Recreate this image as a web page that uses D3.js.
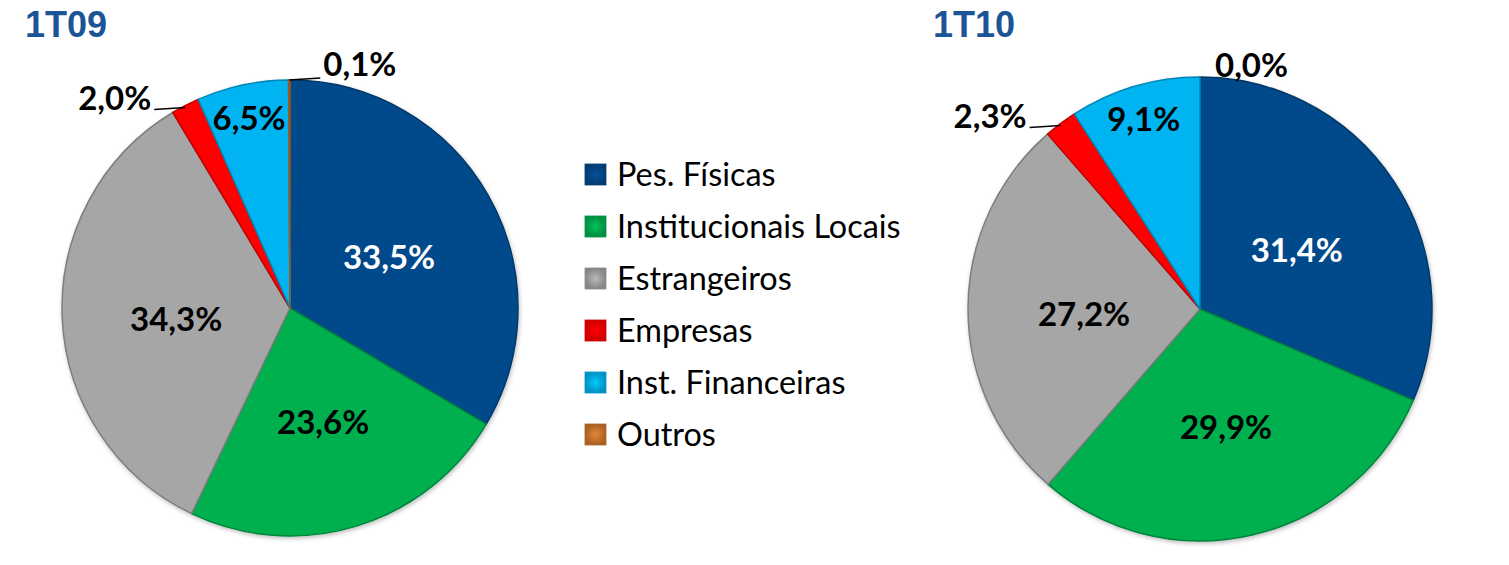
<!DOCTYPE html>
<html lang="pt">
<head>
  <meta charset="UTF-8">
  <title>Base acionária 1T09 x 1T10</title>
  <style>
    html, body { margin: 0; padding: 0; background: #fff; }
    svg { display: block; }
  </style>
</head>
<body>

  <section class="plot"></section>

  <script src="https://cdn.jsdelivr.net/npm/d3@7"></script>
  <script>
    // Data
    const categories = ["Pes. Físicas", "Institucionais Locais", "Estrangeiros", "Empresas", "Inst. Financeiras", "Outros"];
    const periods = ["1T09", "1T10"];
    const values1T09 = [33.5, 23.6, 34.3, 2.0, 6.5, 0.1];
    const values1T10 = [31.4, 29.9, 27.2, 2.3, 9.1, 0.0];
    const seriesValues = [values1T09, values1T10];

    const colors = ["#044a8b", "#00b050", "#a6a6a6", "#ff0000", "#00b4f2", "#d0782e"];
    const labelColors = ["#ffffff", "#000000", "#000000", "#000000", "#000000", "#000000"];

    const W = 1509, H = 565;
    const svg = d3.select(".plot")
      .append("svg")
      .attr("width", W)
      .attr("height", H);

    const color = d3.scaleOrdinal().domain(categories).range(colors);
    const labelColor = d3.scaleOrdinal().domain(categories).range(labelColors);
    const fmt = v => v.toFixed(1).replace(".", ",") + "%";

    // gradient for legend swatches (bevel-ish look)
    const defs = svg.append("defs");
    categories.forEach((c, i) => {
      const g = defs.append("radialGradient").attr("id", "sw" + i);
      g.append("stop").attr("offset", "0%").attr("stop-color", d3.color(color(c)).brighter(0.3));
      g.append("stop").attr("offset", "100%").attr("stop-color", d3.color(color(c)).darker(0.6));
    });
    const shadow = defs.append("filter").attr("id", "shadow")
      .attr("x", "-10%").attr("y", "-10%").attr("width", "120%").attr("height", "120%");
    shadow.append("feDropShadow")
      .attr("dx", 1).attr("dy", 2).attr("stdDeviation", 2)
      .attr("flood-color", "#000").attr("flood-opacity", 0.25);

    // pie layout
    const pies = [
      { title: periods[0], cx: 290, cy: 308, r: 228, titleX: 25 },
      { title: periods[1], cx: 1200, cy: 309, r: 232, titleX: 933 }
    ];

    const pie = d3.pie().sort(null).value(d => d.value);

    pies.forEach((p, k) => {
      const data = categories.map((c, i) => ({ cat: c, value: seriesValues[k][i] }));
      const arcs = pie(data);
      const arc = d3.arc().innerRadius(0).outerRadius(p.r);

      svg.append("text")
        .attr("x", p.titleX)
        .attr("y", 37)
        .attr("font-family", "'Liberation Sans', Arial, sans-serif")
        .attr("font-weight", "bold")
        .attr("font-size", 36)
        .attr("fill", "#1b5497")
        .text(p.title);

      const g = svg.append("g").attr("transform", `translate(${p.cx},${p.cy})`);

      g.append("g")
        .attr("filter", "url(#shadow)")
        .selectAll("path")
        .data(arcs.filter(d => d.data.value > 0))
        .enter()
        .append("path")
          .attr("d", arc)
          .attr("fill", d => color(d.data.cat))
          .attr("stroke", d => d3.color(color(d.data.cat)).darker(0.8))
          .attr("stroke-width", 1.5)
          .attr("stroke-linejoin", "round");

      const inner = d3.arc().innerRadius(p.r * 0.5).outerRadius(p.r * 0.5);
      const nearEdge = d3.arc().innerRadius(p.r * 0.86).outerRadius(p.r * 0.86);
      const edge = d3.arc().innerRadius(p.r).outerRadius(p.r);

      const labels = g.append("g")
        .attr("font-family", "Lato, 'Open Sans', sans-serif")
        .attr("font-weight", "bold")
        .attr("font-size", 33);

      arcs.forEach(d => {
        const v = d.data.value;
        if (v >= 5) {
          const c = (v >= 10 ? inner : nearEdge).centroid(d);
          labels.append("text")
            .attr("x", c[0])
            .attr("y", c[1])
            .attr("text-anchor", "middle")
            .attr("dy", v >= 10 ? "0.52em" : "0.42em")
            .attr("fill", labelColor(d.data.cat))
            .text(fmt(v));
        } else {
          const p0 = edge.centroid(d);
          const mid = (d.startAngle + d.endAngle) / 2;
          const dir = Math.sin(mid) < -0.2 ? -1 : 1;
          if (v > 0) {
            const p1 = [p0[0] + dir * 31, p0[1] + (dir < 0 ? 4 : -2)];
            labels.append("line")
              .attr("x1", p0[0]).attr("y1", p0[1] + (dir < 0 ? 2 : 0))
              .attr("x2", p1[0]).attr("y2", p1[1])
              .attr("stroke", "#000")
              .attr("stroke-width", 1.5);
            labels.append("text")
              .attr("x", p1[0] + (dir < 0 ? -3 : 3))
              .attr("y", p1[1] + (dir < 0 ? 0 : -2))
              .attr("text-anchor", dir < 0 ? "end" : "start")
              .attr("fill", "#000")
              .text(fmt(v));
          } else {
            labels.append("text")
              .attr("x", p0[0] + 15)
              .attr("y", p0[1])
              .attr("text-anchor", "start")
              .attr("fill", "#000")
              .text(fmt(v));
          }
        }
      });
    });

    // Legend
    const rowY = d3.scaleBand().domain(categories).range([164, 164 + 6 * 52]);
    const legend = svg.append("g").attr("transform", "translate(585,0)");
    const rows = legend.selectAll("g")
      .data(categories)
      .enter()
      .append("g")
        .attr("transform", d => `translate(0,${rowY(d)})`);

    rows.append("rect")
      .attr("width", 21)
      .attr("height", 21)
      .attr("fill", (d, i) => `url(#sw${i})`)
      .attr("stroke", d => d3.color(color(d)).darker(0.5))
      .attr("stroke-width", 0.8);

    rows.append("text")
      .attr("x", 32)
      .attr("y", 22)
      .attr("font-family", "Lato, 'Open Sans', sans-serif")
      .attr("font-size", 32.4)
      .attr("fill", "#000")
      .text(d => d);
  </script>
</body>
</html>
